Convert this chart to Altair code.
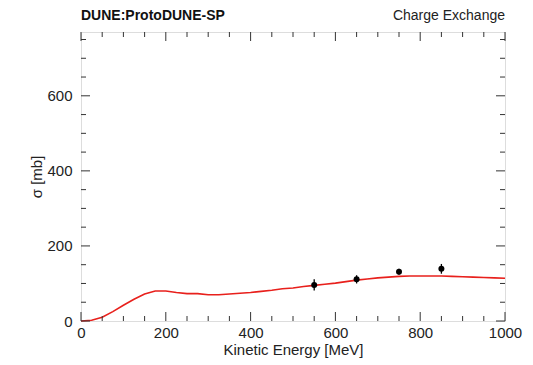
import altair as alt
import pandas as pd

# Model curve (kinetic energy [MeV], sigma [mb])
curve_x = [0, 25, 50, 75, 100, 125, 150, 175, 200, 225, 250, 275, 300, 325, 350,
           375, 400, 425, 450, 475, 500, 525, 550, 575, 600, 625, 650, 675, 700,
           725, 750, 775, 800, 825, 850, 875, 900, 925, 950, 975, 1000]
curve_y = [0, 2, 10, 25, 42, 58, 72, 80, 80, 76, 73, 73, 70, 70, 72,
           74, 76, 79, 82, 86, 88, 92, 95, 98, 101, 105, 109, 112, 115,
           117, 119, 120, 120, 120, 120, 119, 118, 117, 116, 115, 114]

# Data points
data_x = [550, 650, 750, 850]
data_y = [96, 111, 131, 139]
data_err = [15, 11, 8, 13]

# Axis ticks
x_major = [0, 200, 400, 600, 800, 1000]
x_minor = [50, 100, 150, 250, 300, 350, 450, 500, 550, 650, 700, 750, 850, 900, 950]
y_major = [0, 200, 400, 600]
y_minor = [50, 100, 150, 250, 300, 350, 450, 500, 550, 650, 700, 750]

left_title = "DUNE:ProtoDUNE-SP"
right_title = "Charge Exchange"

W, H = 424, 289
XMAX, YMAX = 1000, 770
FONT = "Liberation Sans"

xs = alt.Scale(domain=[0, XMAX], nice=False, zero=False)
ys = alt.Scale(domain=[0, YMAX], nice=False, zero=False)

curve_df = pd.DataFrame({"x": curve_x, "y": curve_y})
pts_df = pd.DataFrame({"x": data_x, "y": data_y, "err": data_err})
pts_df["lo"] = pts_df["y"] - pts_df["err"]
pts_df["hi"] = pts_df["y"] + pts_df["err"]

x_axis = alt.Axis(values=x_major, format="d", ticks=False, domain=False, grid=False,
                  labelFont=FONT, labelFontSize=15, labelColor="#222",
                  labelPadding=4, title="Kinetic Energy [MeV]", titleFont=FONT,
                  titleFontSize=15, titleFontWeight="normal", titleColor="#222",
                  titlePadding=2, labelFlush=False)
y_axis = alt.Axis(values=y_major, format="d", ticks=False, domain=False, grid=False,
                  labelFont=FONT, labelFontSize=15, labelColor="#222",
                  labelPadding=9, title="σ [mb]", titleFont=FONT,
                  titleFontSize=15, titleFontWeight="normal", titleColor="#222",
                  titlePadding=2, labelFlush=False)

line = alt.Chart(curve_df).mark_line(color="#e8201c", strokeWidth=1.6).encode(
    x=alt.X("x:Q", scale=xs, axis=x_axis),
    y=alt.Y("y:Q", scale=ys, axis=y_axis),
)

ebar = alt.Chart(pts_df).mark_rule(color="black", strokeWidth=1.3).encode(
    x=alt.X("x:Q", scale=xs), y=alt.Y("lo:Q", scale=ys), y2="hi:Q"
)
pts = alt.Chart(pts_df).mark_circle(color="black", opacity=1, size=36).encode(
    x=alt.X("x:Q", scale=xs), y=alt.Y("y:Q", scale=ys)
)

def xticks(vals, length):
    df = pd.DataFrame({"v": vals})
    b = alt.Chart(df).mark_rule(color="#333", strokeWidth=1).encode(
        x=alt.X("v:Q", scale=xs), y=alt.value(H), y2=alt.value(H - length))
    t = alt.Chart(df).mark_rule(color="#333", strokeWidth=1).encode(
        x=alt.X("v:Q", scale=xs), y=alt.value(0), y2=alt.value(length))
    return [b, t]

def yticks(vals, length):
    df = pd.DataFrame({"v": vals})
    l = alt.Chart(df).mark_rule(color="#333", strokeWidth=1).encode(
        y=alt.Y("v:Q", scale=ys), x=alt.value(0), x2=alt.value(length))
    r = alt.Chart(df).mark_rule(color="#333", strokeWidth=1).encode(
        y=alt.Y("v:Q", scale=ys), x=alt.value(W), x2=alt.value(W - length))
    return [l, r]

tick_layers = xticks(x_major, 9) + xticks(x_minor, 5) + yticks(y_major, 9) + yticks(y_minor, 5)

title_df = pd.DataFrame({"left": [left_title], "right": [right_title]})
tl = alt.Chart(title_df).mark_text(font=FONT, fontSize=14, fontWeight="bold",
                                   align="left", baseline="alphabetic", color="#111").encode(
    text="left:N", x=alt.value(0), y=alt.value(-12))
tr = alt.Chart(title_df).mark_text(font=FONT, fontSize=14, fontWeight="normal",
                                   align="right", baseline="alphabetic", color="#222").encode(
    text="right:N", x=alt.value(W), y=alt.value(-12))

chart = alt.layer(line, *tick_layers, ebar, pts, tl, tr).properties(
    width=W, height=H,
    autosize=alt.AutoSizeParams(type="none"),
    padding={"left": 73, "top": 24, "right": 20, "bottom": 42},
).configure_view(stroke="#222", strokeWidth=1.5).configure(background="white")

chart.save("out.html", embed_options={"renderer": "svg", "actions": False})
